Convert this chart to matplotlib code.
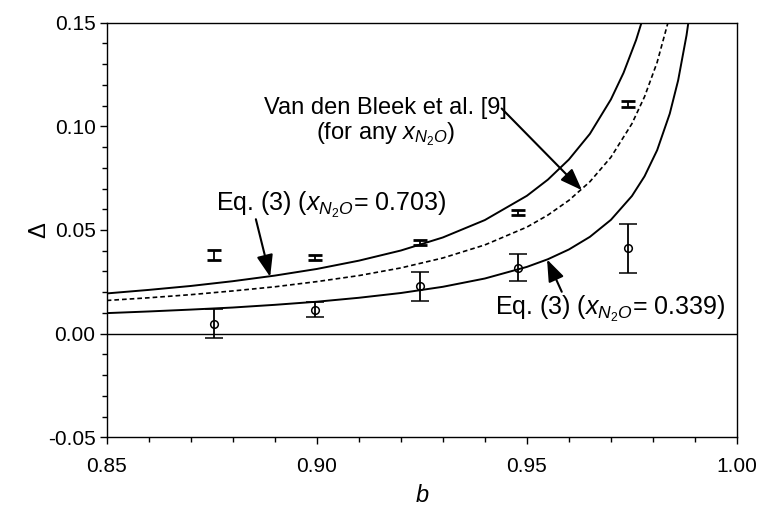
import matplotlib
matplotlib.use('Agg')
import matplotlib.pyplot as plt
from matplotlib.ticker import MultipleLocator, FormatStrFormatter

plt.rcParams['font.family'] = ['Liberation Sans', 'DejaVu Sans']
plt.rcParams['mathtext.fontset'] = 'custom'
plt.rcParams['mathtext.rm'] = 'Liberation Sans'
plt.rcParams['mathtext.it'] = 'Liberation Sans:italic'
plt.rcParams['mathtext.bf'] = 'Liberation Sans:bold'
plt.rcParams['axes.unicode_minus'] = False

# ---- data ----
b_exp = [0.8755, 0.8995, 0.9245, 0.948, 0.974]
delta_hi = [0.0379, 0.0368, 0.0441, 0.0584, 0.1109]
err_hi = [0.0025, 0.0013, 0.0013, 0.0012, 0.0014]
delta_lo = [0.0048, 0.0116, 0.0228, 0.0318, 0.0411]
err_lo = [0.0070, 0.0038, 0.0071, 0.0065, 0.0117]

b_703 = [0.85, 0.86, 0.87, 0.88, 0.89, 0.90, 0.91, 0.92, 0.93, 0.94, 0.95,
         0.955, 0.96, 0.965, 0.97, 0.973, 0.976, 0.978]
d_703 = [0.0194, 0.0211, 0.0230, 0.0253, 0.0280, 0.0312, 0.0352, 0.0401,
         0.0464, 0.0548, 0.0665, 0.0743, 0.0840, 0.0964, 0.1130, 0.1258,
         0.1417, 0.1547]

b_vdb = [0.85, 0.86, 0.87, 0.88, 0.89, 0.90, 0.91, 0.92, 0.93, 0.94, 0.95,
         0.955, 0.96, 0.965, 0.97, 0.975, 0.978, 0.981, 0.984]
d_vdb = [0.0160, 0.0173, 0.0188, 0.0206, 0.0226, 0.0251, 0.0280, 0.0317,
         0.0365, 0.0428, 0.0514, 0.0572, 0.0643, 0.0733, 0.0851, 0.1013,
         0.1143, 0.1309, 0.1532]

b_339 = [0.85, 0.86, 0.87, 0.88, 0.89, 0.90, 0.91, 0.92, 0.93, 0.94, 0.95,
         0.955, 0.96, 0.965, 0.97, 0.975, 0.978, 0.981, 0.984, 0.986, 0.988,
         0.989]
d_339 = [0.0099, 0.0107, 0.0116, 0.0126, 0.0139, 0.0154, 0.0173, 0.0196,
         0.0226, 0.0266, 0.0322, 0.0359, 0.0406, 0.0467, 0.0549, 0.0664,
         0.0759, 0.0885, 0.1061, 0.1222, 0.1440, 0.1581]

x_ticks = [0.85, 0.90, 0.95, 1.00]
y_ticks = [-0.05, 0.00, 0.05, 0.10, 0.15]

fig = plt.figure(figsize=(7.6, 5.15), dpi=100)
ax = fig.add_axes([0.1404, 0.1509, 0.8293, 0.805])

ax.axhline(0, color='black', lw=1.0, zorder=1)
ax.plot(b_703, d_703, color='black', lw=1.4)
ax.plot(b_vdb, d_vdb, color='black', lw=1.2, linestyle=(0, (2.8, 1.8)))
ax.plot(b_339, d_339, color='black', lw=1.4)

ax.errorbar(b_exp, delta_hi, yerr=err_hi, fmt='none', ecolor='black',
            elinewidth=1.3, capsize=5, capthick=2.0)
ax.errorbar(b_exp, delta_lo, yerr=err_lo, fmt='o', mfc='none', mec='black',
            ms=5.5, mew=1.1, ecolor='black', elinewidth=1.3, capsize=6.5,
            capthick=2.0)

ax.set_xlim(0.85, 1.00)
ax.set_ylim(-0.05, 0.15)
ax.set_xticks(x_ticks)
ax.set_yticks(y_ticks)
ax.xaxis.set_major_formatter(FormatStrFormatter('%.2f'))
ax.yaxis.set_major_formatter(FormatStrFormatter('%.2f'))
ax.xaxis.set_minor_locator(MultipleLocator(0.01))
ax.yaxis.set_minor_locator(MultipleLocator(0.01))
ax.tick_params(which='major', length=5, width=1.0, direction='out',
               labelsize=15, top=False, right=False)
ax.tick_params(axis='x', which='major', pad=9)
ax.tick_params(axis='y', which='major', pad=3)
ax.tick_params(which='minor', length=3.5, width=1.0, direction='out',
               top=False, right=False)
for s in ax.spines.values():
    s.set_linewidth(1.0)

ax.set_xlabel('$b$', fontsize=17)
ax.xaxis.set_label_coords(0.5, -0.115)
ax.set_ylabel('Δ', fontsize=17)
ax.yaxis.set_label_coords(-0.09, 0.5)

arrow = dict(arrowstyle='-|>,head_length=0.7,head_width=0.26',
             mutation_scale=19, lw=1.5, color='black',
             shrinkA=0, shrinkB=0)

ax.text(0.876, 0.062, 'Eq. (3) ($x_{N_2O}$= 0.703)', fontsize=18,
        ha='left', va='center')
ax.annotate('', xy=(0.8889, 0.0274), xytext=(0.8855, 0.0552),
            arrowprops=arrow)

ax.text(0.9163, 0.1090, 'Van den Bleek et al. [9]', fontsize=17,
        ha='center', va='center')
ax.text(0.9163, 0.0960, '(for any $x_{N_2O}$)', fontsize=17,
        ha='center', va='center')
ax.annotate('', xy=(0.9631, 0.0692), xytext=(0.944, 0.1086),
            arrowprops=arrow)

ax.text(0.9698, 0.0118, 'Eq. (3) ($x_{N_2O}$= 0.339)', fontsize=18,
        ha='center', va='center')
ax.annotate('', xy=(0.9548, 0.0358), xytext=(0.9583, 0.0202),
            arrowprops=arrow)

fig.savefig('out.png', dpi=100)
